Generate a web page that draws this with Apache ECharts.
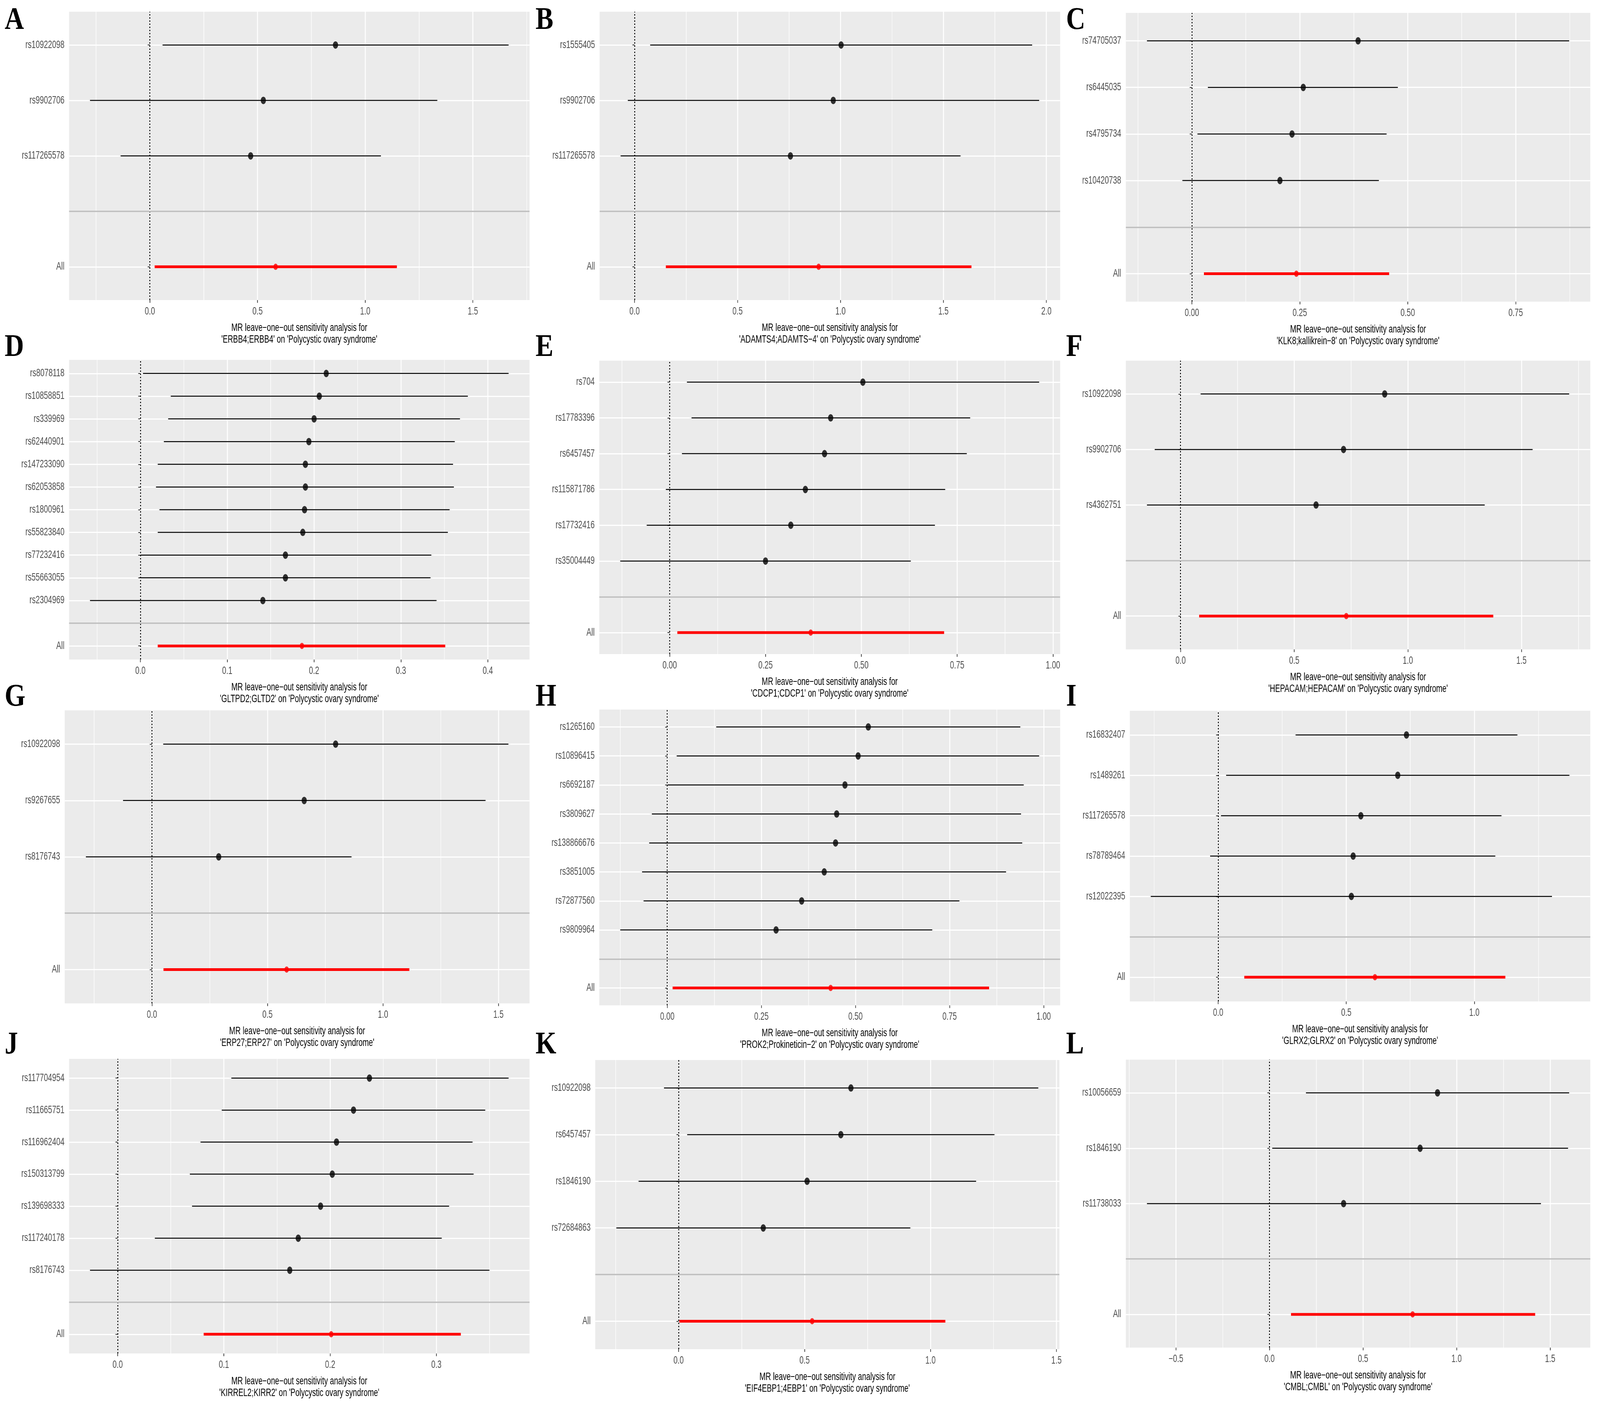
<!DOCTYPE html>
<html>
<head>
<meta charset="utf-8">
<title>MR leave-one-out sensitivity analysis</title>
<script src="https://cdn.jsdelivr.net/npm/echarts@6.0.0/dist/echarts.min.js"></script>
<style>
  html, body { margin: 0; padding: 0; background: #fff; overflow: hidden; }
  #wrap { position: absolute; left: 0; top: 0; width: 4795px; height: 3601px; overflow: hidden; transform-origin: 0 0; }
  #main { position: absolute; left: 0; top: 0; height: 3601px; transform-origin: 0 0; }
</style>
</head>
<body>
<div id="wrap"><div id="main"></div></div>
<script>
// SNP labels top -> bottom, last one is the pooled "All" estimate
var A_snp = ['rs10922098', 'rs9902706', 'rs117265578', 'All'];
var A_b   = [0.862, 0.527, 0.468, 0.584];
var A_lo  = [0.059, -0.278, -0.136, 0.022];
var A_hi  = [1.666, 1.335, 1.073, 1.147];

var B_snp = ['rs1555405', 'rs9902706', 'rs117265578', 'All'];
var B_b   = [1.003, 0.965, 0.757, 0.894];
var B_lo  = [0.076, -0.033, -0.068, 0.152];
var B_hi  = [1.931, 1.965, 1.583, 1.636];

var C_snp = ['rs74705037', 'rs6445035', 'rs4795734', 'rs10420738', 'All'];
var C_b   = [0.385, 0.258, 0.232, 0.204, 0.242];
var C_lo  = [-0.104, 0.037, 0.013, -0.022, 0.028];
var C_hi  = [0.874, 0.477, 0.451, 0.433, 0.457];

var D_snp = ['rs8078118', 'rs10858851', 'rs339969', 'rs62440901', 'rs147233090', 'rs62053858',
             'rs1800961', 'rs55823840', 'rs77232416', 'rs55663055', 'rs2304969', 'All'];
var D_b   = [0.214, 0.206, 0.200, 0.194, 0.190, 0.190, 0.189, 0.187, 0.167, 0.167, 0.141, 0.186];
var D_lo  = [0.003, 0.035, 0.032, 0.027, 0.020, 0.018, 0.022, 0.020, 0.000, -0.001, -0.058, 0.020];
var D_hi  = [0.424, 0.377, 0.368, 0.362, 0.360, 0.361, 0.356, 0.354, 0.335, 0.334, 0.341, 0.351];

var E_snp = ['rs704', 'rs17783396', 'rs6457457', 'rs115871786', 'rs17732416', 'rs35004449', 'All'];
var E_b   = [0.504, 0.420, 0.404, 0.354, 0.316, 0.250, 0.368];
var E_lo  = [0.045, 0.057, 0.032, -0.010, -0.060, -0.129, 0.020];
var E_hi  = [0.964, 0.784, 0.775, 0.719, 0.692, 0.629, 0.716];

var F_snp = ['rs10922098', 'rs9902706', 'rs4362751', 'All'];
var F_b   = [0.898, 0.717, 0.596, 0.729];
var F_lo  = [0.088, -0.114, -0.148, 0.082];
var F_hi  = [1.710, 1.549, 1.338, 1.376];

var G_snp = ['rs10922098', 'rs9267655', 'rs8176743', 'All'];
var G_b   = [0.795, 0.659, 0.289, 0.583];
var G_lo  = [0.049, -0.125, -0.286, 0.050];
var G_hi  = [1.543, 1.444, 0.864, 1.114];

var H_snp = ['rs1265160', 'rs10896415', 'rs6692187', 'rs3809627', 'rs138866676', 'rs3851005',
             'rs72877560', 'rs9809964', 'All'];
var H_b   = [0.534, 0.507, 0.472, 0.450, 0.447, 0.417, 0.357, 0.289, 0.434];
var H_lo  = [0.130, 0.025, 0.001, -0.041, -0.048, -0.067, -0.063, -0.125, 0.014];
var H_hi  = [0.938, 0.988, 0.947, 0.940, 0.943, 0.900, 0.776, 0.704, 0.855];

var I_snp = ['rs16832407', 'rs1489261', 'rs117265578', 'rs78789464', 'rs12022395', 'All'];
var I_b   = [0.735, 0.701, 0.557, 0.527, 0.520, 0.612];
var I_lo  = [0.302, 0.031, 0.011, -0.031, -0.263, 0.102];
var I_hi  = [1.168, 1.371, 1.106, 1.082, 1.303, 1.121];

var J_snp = ['rs117704954', 'rs11665751', 'rs116962404', 'rs150313799', 'rs139698333',
             'rs117240178', 'rs8176743', 'All'];
var J_b   = [0.237, 0.222, 0.206, 0.202, 0.191, 0.170, 0.162, 0.201];
var J_lo  = [0.107, 0.098, 0.078, 0.068, 0.070, 0.035, -0.026, 0.081];
var J_hi  = [0.368, 0.346, 0.334, 0.335, 0.312, 0.305, 0.350, 0.323];

var K_snp = ['rs10922098', 'rs6457457', 'rs1846190', 'rs72684863', 'All'];
var K_b   = [0.684, 0.644, 0.510, 0.336, 0.530];
var K_lo  = [-0.058, 0.034, -0.159, -0.247, 0.003];
var K_hi  = [1.428, 1.254, 1.181, 0.920, 1.059];

var L_snp = ['rs10056659', 'rs1846190', 'rs11738033', 'All'];
var L_b   = [0.898, 0.805, 0.396, 0.765];
var L_lo  = [0.195, 0.015, -0.655, 0.115];
var L_hi  = [1.602, 1.596, 1.451, 1.420];

// panel tag, exposure name, x tick step and decimals
var panels = [
    {tag: 'A', exp: 'ERBB4;ERBB4',           snp: A_snp, b: A_b, lo: A_lo, hi: A_hi, step: 0.5,  dec: 1},
    {tag: 'B', exp: 'ADAMTS4;ADAMTS\u22124', snp: B_snp, b: B_b, lo: B_lo, hi: B_hi, step: 0.5,  dec: 1},
    {tag: 'C', exp: 'KLK8;kallikrein\u22128', snp: C_snp, b: C_b, lo: C_lo, hi: C_hi, step: 0.25, dec: 2},
    {tag: 'D', exp: 'GLTPD2;GLTD2',          snp: D_snp, b: D_b, lo: D_lo, hi: D_hi, step: 0.1,  dec: 1},
    {tag: 'E', exp: 'CDCP1;CDCP1',           snp: E_snp, b: E_b, lo: E_lo, hi: E_hi, step: 0.25, dec: 2},
    {tag: 'F', exp: 'HEPACAM;HEPACAM',       snp: F_snp, b: F_b, lo: F_lo, hi: F_hi, step: 0.5,  dec: 1},
    {tag: 'G', exp: 'ERP27;ERP27',           snp: G_snp, b: G_b, lo: G_lo, hi: G_hi, step: 0.5,  dec: 1},
    {tag: 'H', exp: 'PROK2;Prokineticin\u22122', snp: H_snp, b: H_b, lo: H_lo, hi: H_hi, step: 0.25, dec: 2},
    {tag: 'I', exp: 'GLRX2;GLRX2',           snp: I_snp, b: I_b, lo: I_lo, hi: I_hi, step: 0.5,  dec: 1},
    {tag: 'J', exp: 'KIRREL2;KIRR2',         snp: J_snp, b: J_b, lo: J_lo, hi: J_hi, step: 0.1,  dec: 1},
    {tag: 'K', exp: 'EIF4EBP1;4EBP1',        snp: K_snp, b: K_b, lo: K_lo, hi: K_hi, step: 0.5,  dec: 1},
    {tag: 'L', exp: 'CMBL;CMBL',             snp: L_snp, b: L_b, lo: L_lo, hi: L_hi, step: 0.5,  dec: 1}
];

// panel rectangles in figure px: left, top, right, bottom
var boxes = [
    [207, 30, 1587, 768],   [1797, 30, 3177, 768],   [3374, 33, 4766, 772],
    [207, 921, 1587, 1688], [1796, 923, 3177, 1674], [3374, 923, 4766, 1662],
    [194, 1818, 1587, 2568],[1796, 1816, 3177, 2573],[3386, 1819, 4766, 2563],
    [207, 2710, 1587, 3464],[1784, 2713, 3175, 3453],[3374, 2712, 4766, 3449]
];
var tagX = [14, 1605, 3195];
var tagY = [53, 890, 1785, 2675];

// the original figure is squeezed horizontally; draw wide, then squeeze
var SX = 0.82;
function X(v) { return v / SX; }

var FONT = "'Liberation Sans', Arial, Helvetica, sans-serif";
var OUTCOME = 'Polycystic ovary syndrome';

var grids = [], xAxes = [], yAxes = [], series = [], graphics = [];

function xFormatter(step, dec) {
    return function (v) {
        var r = v / step;
        if (Math.abs(r - Math.round(r)) > 1e-6) return '';
        var s = (Math.round(r) * step).toFixed(dec);
        if (s.charAt(0) === '-') s = '\u2212' + s.slice(1);
        if (/^\u22120\.0+$/.test(s)) s = s.slice(1);
        return s;
    };
}

function yFormatter(labels) {
    return function (v) {
        var k = Math.round(v);
        if (Math.abs(v - k) > 1e-6) return '';
        return labels[k] || '';
    };
}

function each(arr, fn) { for (var i = 0; i < arr.length; i++) fn(arr[i], i); }

each(panels, function (p, k) {
    var box = boxes[k];
    var n = p.snp.length - 1;          // single SNP rows
    var levels = n + 2;                // All, blank, SNPs
    var labels = {1: 'All', 2: ''};
    var bars = [], dots = [];

    // ggplot style 5% expansion of the x range
    var lo = Math.min.apply(null, p.lo), hi = Math.max.apply(null, p.hi);
    var pad = (hi - lo) * 0.05;
    var xmin = lo - pad, xmax = hi + pad;

    var xTicks = [], yTicks = [];
    for (var t = Math.ceil(xmin / p.step); t <= Math.floor(xmax / p.step); t++) {
        xTicks.push(+(t * p.step).toFixed(6));
    }
    for (var j = 1; j <= levels; j++) yTicks.push(j);

    each(p.snp, function (s, i) {
        var isAll = i === n;
        var lvl = isAll ? 1 : levels - i;
        labels[lvl] = s;
        bars.push([p.lo[i], p.hi[i], lvl, isAll ? 1 : 0]);
        dots.push({
            value: [p.b[i], lvl],
            symbolSize: isAll ? 16 : 19,
            itemStyle: {color: isAll ? '#FF0000' : '#000000'}
        });
    });

    grids.push({
        left: X(box[0]), top: box[1], width: X(box[2] - box[0]), height: box[3] - box[1],
        show: true, backgroundColor: '#EBEBEB', borderWidth: 0
    });

    xAxes.push({
        gridIndex: k, type: 'value',
        min: xmin, max: xmax,
        minInterval: p.step, maxInterval: p.step,
        axisLine: {show: false},
        axisTick: {show: true, length: 7, customValues: xTicks, lineStyle: {color: '#333333', width: 2.4}},
        axisLabel: {
            formatter: xFormatter(p.step, p.dec), margin: 16, customValues: xTicks,
            fontFamily: FONT, fontSize: 27, color: '#4D4D4D'
        },
        splitLine: {show: true, lineStyle: {color: '#FFFFFF', width: 3.6}},
        minorTick: {show: false, splitNumber: 2},
        minorSplitLine: {show: true, lineStyle: {color: '#FFFFFF', width: 1.8}},
        name: 'MR leave\u2212one\u2212out sensitivity analysis for\n\'' + p.exp + '\' on \'' + OUTCOME + '\'',
        nameLocation: 'middle', nameGap: 57,
        nameTextStyle: {fontFamily: FONT, fontSize: 27, color: '#000000', lineHeight: 30}
    });

    yAxes.push({
        gridIndex: k, type: 'value',
        min: 0.4, max: levels + 0.6,
        minInterval: 1, maxInterval: 1,
        axisLine: {show: false},
        axisTick: {show: true, length: 8, customValues: yTicks, lineStyle: {color: '#333333', width: 2}},
        axisLabel: {
            formatter: yFormatter(labels), margin: 17, customValues: yTicks,
            fontFamily: FONT, fontSize: 27, color: '#4D4D4D'
        },
        splitLine: {show: true, lineStyle: {color: '#FFFFFF', width: 3}}
    });

    // error bars with the zero line and the separator line
    series.push({
        type: 'custom', xAxisIndex: k, yAxisIndex: k,
        silent: true, animation: false,
        encode: {x: [0, 1], y: 2},
        data: bars,
        renderItem: function (params, api) {
            var y = api.value(2);
            var a = api.coord([api.value(0), y]);
            var c = api.coord([api.value(1), y]);
            var isAll = api.value(3) === 1;
            return {
                type: 'line',
                shape: {x1: a[0], y1: a[1], x2: c[0], y2: c[1]},
                style: {stroke: isAll ? '#FF0000' : '#000000', lineWidth: isAll ? 7 : 2.5}
            };
        },
        markLine: {
            silent: true, symbol: ['none', 'none'], label: {show: false}, animation: false,
            data: [
                {xAxis: 0, lineStyle: {type: [4, 4], color: '#000000', width: 3}},
                {yAxis: 2, lineStyle: {type: 'solid', color: '#BEBEBE', width: 3.5}}
            ]
        }
    });

    series.push({
        type: 'scatter', xAxisIndex: k, yAxisIndex: k,
        silent: true, animation: false,
        symbol: 'circle',
        data: dots
    });

    // panel letters are not squeezed in the original
    graphics.push({
        type: 'text',
        x: X(tagX[k % 3]), y: tagY[Math.floor(k / 3)],
        scaleX: 1 / SX,
        style: {
            text: p.tag, fill: '#000000',
            font: 'bold 80px "Liberation Serif", "Times New Roman", serif',
            align: 'left', verticalAlign: 'middle'
        }
    });
});

// fit the 4795 x 3601 figure into whatever window we get
var vw = window.innerWidth || 4795, vh = window.innerHeight || 3601;
var wrap = document.getElementById('wrap');
var dom = document.getElementById('main');
dom.style.width = Math.round(X(4795)) + 'px';
dom.style.transform = 'scaleX(' + SX + ')';
wrap.style.transform = 'scale(' + (vw / 4795) + ',' + (vh / 3601) + ')';

var myChart = echarts.init(dom, null, {renderer: 'canvas'});

var option = {
    animation: false,
    backgroundColor: '#FFFFFF',
    grid: grids,
    xAxis: xAxes,
    yAxis: yAxes,
    series: series,
    graphic: graphics
};

myChart.setOption(option);
</script>
</body>
</html>
